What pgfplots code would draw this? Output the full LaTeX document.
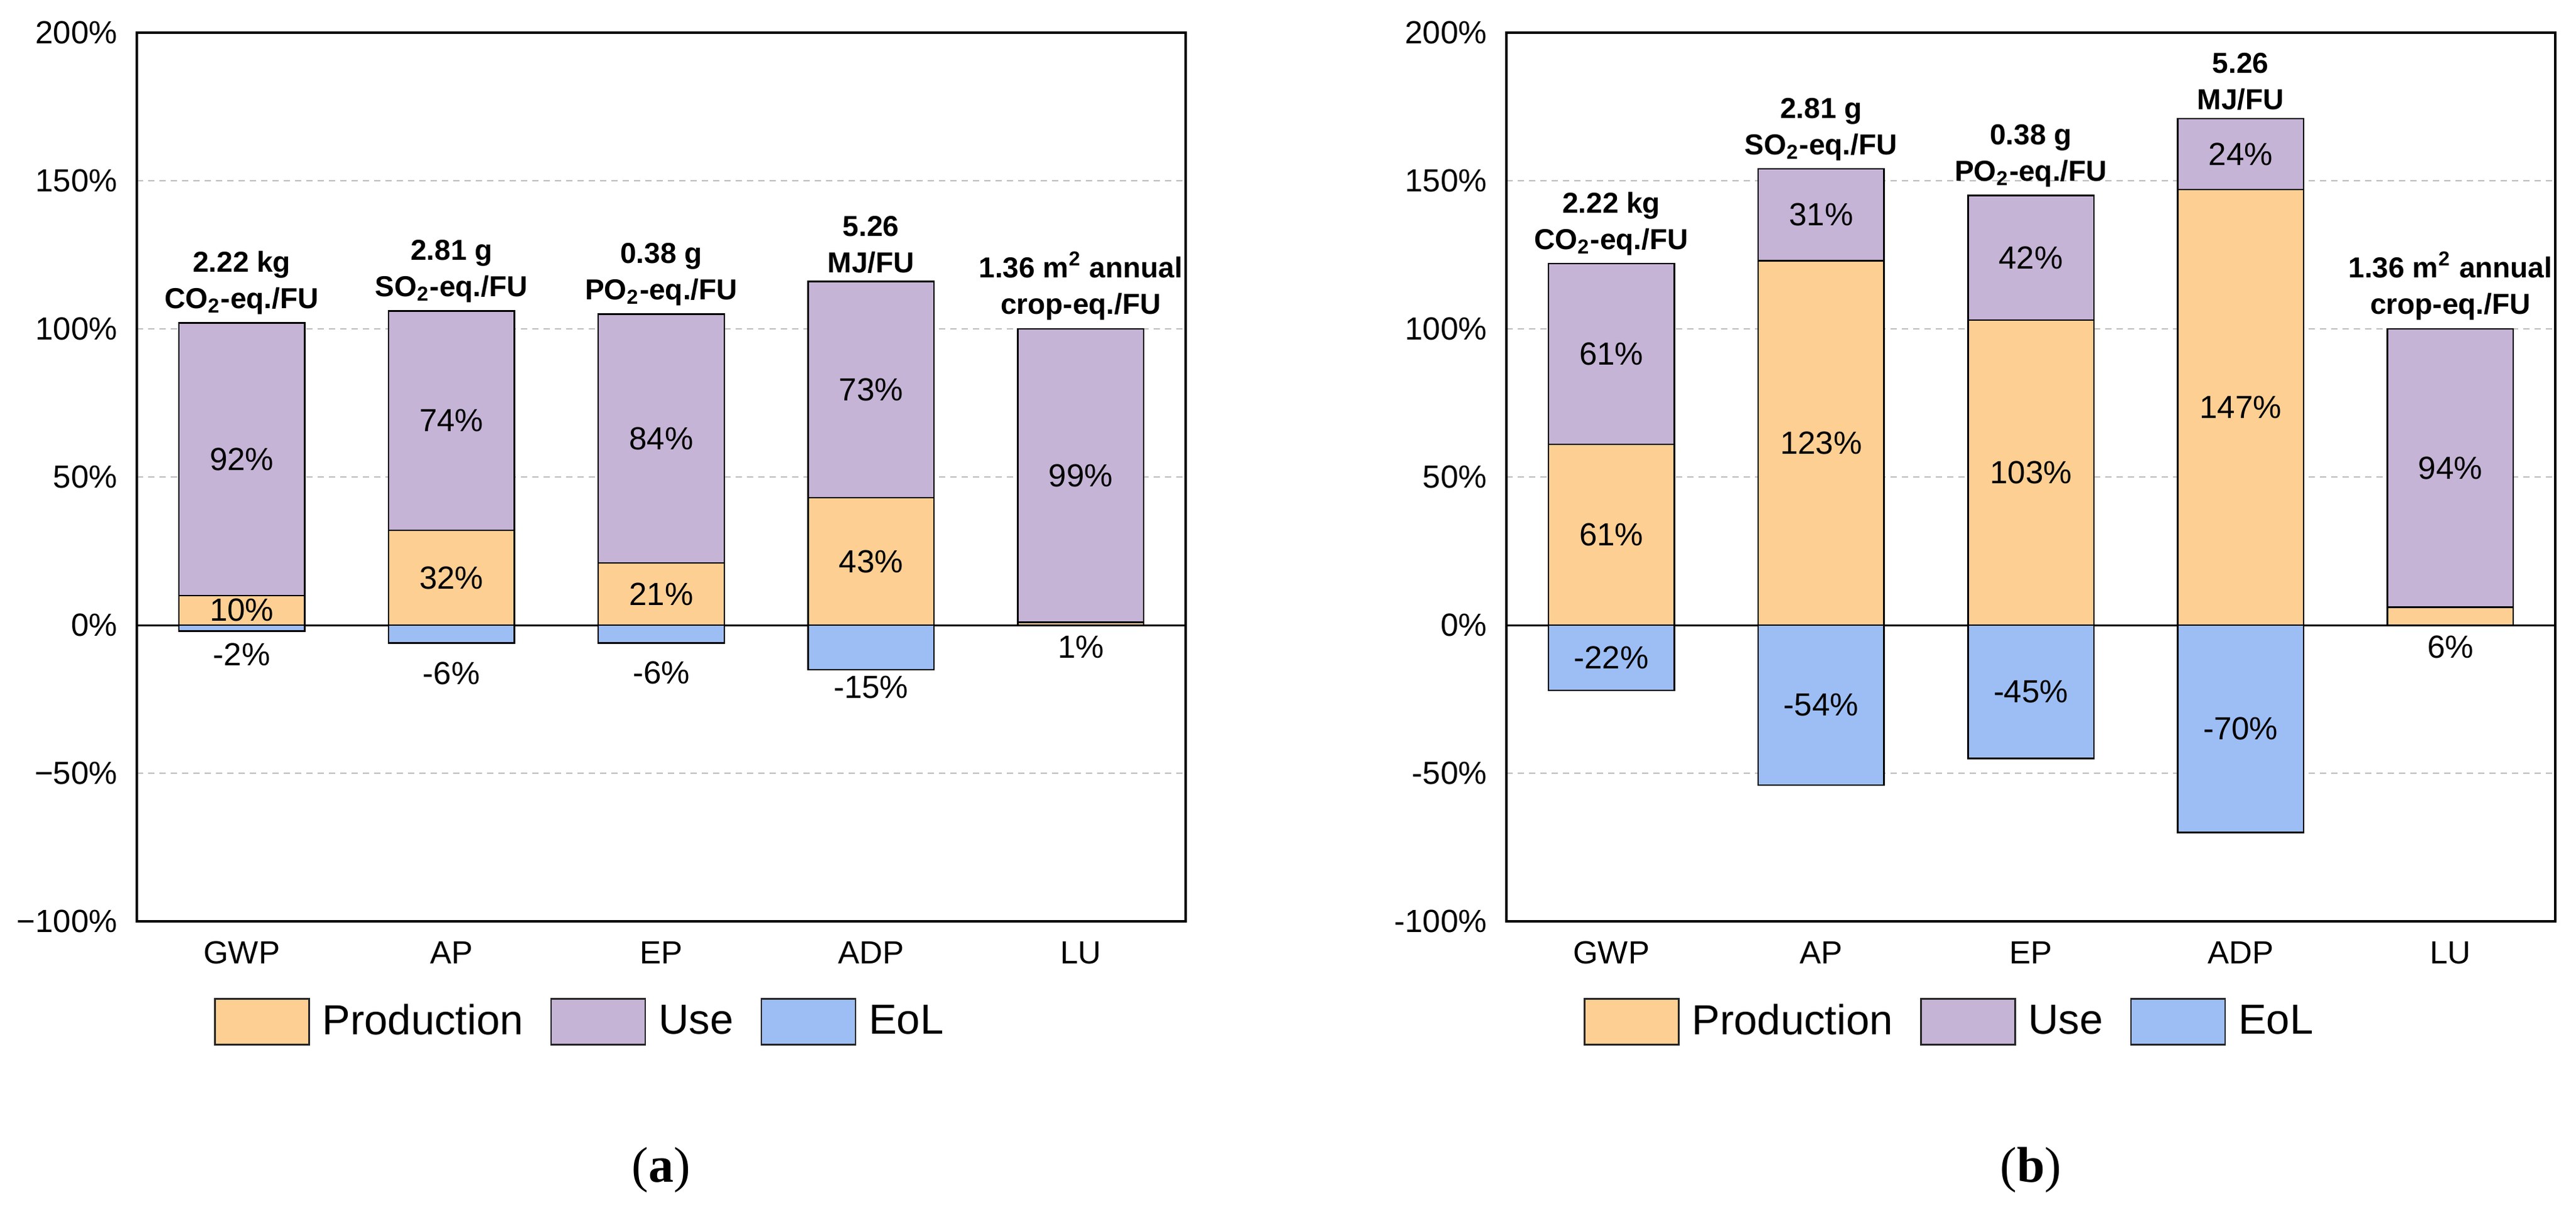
\documentclass[border=0pt]{standalone}
\usepackage{pgfplots}
\pgfplotsset{compat=1.18}
\usepackage{pgfplotstable}
\usepackage{fontspec}
\setmainfont{Liberation Sans}
\newfontfamily\capfont{Liberation Serif}
\definecolor{prodc}{HTML}{FECF93}
\definecolor{usec}{HTML}{C6B4D7}
\definecolor{eolc}{HTML}{9DBEF5}
\definecolor{gridc}{HTML}{BDBDBD}

\pgfplotstableread{
x prod use eol
0 10 92 -2
1 32 74 -6
2 21 84 -6
3 43 73 -15
4 1 99 0
}\dataA
\pgfplotstableread{
x prod use eol
0 61 61 -22
1 123 31 -54
2 103 42 -45
3 147 24 -70
4 6 94 0
}\dataB

\tikzset{
  annot/.style={anchor=south, align=center, inner sep=0pt, yshift=2.5pt,
    font=\fontsize{9.2}{11.6}\selectfont\bfseries},
  lab/.style={font=\fontsize{10.2}{12}\selectfont, inner sep=0pt},
}
\pgfplotsset{
  lcastyle/.style={
    scale only axis, width=334.2pt, height=283.2pt,
    anchor=south west,
    xmin=-0.5, xmax=4.5, ymin=-100, ymax=200,
    xtick={0,1,2,3,4}, xticklabels={GWP,AP,EP,ADP,LU},
    ytick={-100,-50,0,50,100,150,200},
    major tick length=0pt,
    axis line style={line width=0.8pt},
    ymajorgrids,
    major grid style={gridc, dash pattern=on 2pt off 1.6pt, line width=0.4pt},
    extra y ticks={0}, extra y tick labels={},
    extra y tick style={ymajorgrids=true, major grid style={black, solid, line width=0.6pt}},
    tick label style={font=\fontsize{10.2}{12}\selectfont, inner sep=0pt},
    yticklabel shift=6pt, xticklabel shift=6.2pt,
    ybar, bar width=0.6, bar shift=0pt,
    legend style={at={(0.0737,-0.113)}, anchor=west, draw=none, fill=none,
      legend columns=3, font=\fontsize{13.4}{16}\selectfont,
      inner sep=0pt, outer sep=0pt, nodes={inner sep=0pt},
      /tikz/every odd column/.append style={column sep=4pt},
      /tikz/every even column/.append style={column sep=8.6pt}},
    legend cell align=left,
    xlabel style={at={(0.5,-0.28)}, anchor=center, font=\capfont\fontsize{16}{18}\selectfont},
  },
  barsty/.style={draw=black, line width=0.5pt, forget plot},
  legbox/.style={legend image code/.code={\draw[fill=#1,draw=black!85,line width=0.5pt] (0pt,-7.3pt) rectangle (30pt,7.3pt);}},
}

\begin{document}
\begin{tikzpicture}
\path[use as bounding box] (0,0) rectangle (820.8pt,383.8pt);

% ---------------- panel (a)
\begin{axis}[lcastyle, at={(43.6pt,90.2pt)},
  yticklabels={−100\%,−50\%,0\%,50\%,100\%,150\%,200\%},
  xlabel={(\textbf{a})}]
\addlegendimage{legbox=prodc}
\addlegendentry{Production}
\addlegendimage{legbox=usec}
\addlegendentry{Use}
\addlegendimage{legbox=eolc}
\addlegendentry{EoL}
\addplot[barsty, fill=usec] table[x=x, y expr=\thisrow{prod}+\thisrow{use}] {\dataA};
\addplot[barsty, fill=prodc] table[x=x, y=prod] {\dataA};
\addplot[barsty, fill=eolc] table[x=x, y=eol] {\dataA};
% annotations
\node[annot] at (axis cs:0,102) {2.22 kg\\CO\textsubscript{2}-eq./FU};
\node[annot] at (axis cs:1,106) {2.81 g\\SO\textsubscript{2}-eq./FU};
\node[annot] at (axis cs:2,105) {0.38 g\\PO\textsubscript{2}-eq./FU};
\node[annot] at (axis cs:3,116) {5.26\\MJ/FU};
\node[annot] at (axis cs:4,100) {1.36 m\textsuperscript{2} annual\\crop-eq./FU};
% values
\node[lab] at (axis cs:0,5) {10\%};
\node[lab] at (axis cs:0,56) {92\%};
\node[lab] at (axis cs:0,-10) {-2\%};
\node[lab] at (axis cs:1,16) {32\%};
\node[lab] at (axis cs:1,69) {74\%};
\node[lab] at (axis cs:1,-16.3) {-6\%};
\node[lab] at (axis cs:2,10.5) {21\%};
\node[lab] at (axis cs:2,63) {84\%};
\node[lab] at (axis cs:2,-16) {-6\%};
\node[lab] at (axis cs:3,21.5) {43\%};
\node[lab] at (axis cs:3,79.5) {73\%};
\node[lab] at (axis cs:3,-21) {-15\%};
\node[lab] at (axis cs:4,50.5) {99\%};
\node[lab] at (axis cs:4,-7.5) {1\%};
\end{axis}

% ---------------- panel (b)
\begin{axis}[lcastyle, at={(480.0pt,90.2pt)},
  yticklabels={-100\%,-50\%,0\%,50\%,100\%,150\%,200\%},
  xlabel={(\textbf{b})}]
\addlegendimage{legbox=prodc}
\addlegendentry{Production}
\addlegendimage{legbox=usec}
\addlegendentry{Use}
\addlegendimage{legbox=eolc}
\addlegendentry{EoL}
\addplot[barsty, fill=usec] table[x=x, y expr=\thisrow{prod}+\thisrow{use}] {\dataB};
\addplot[barsty, fill=prodc] table[x=x, y=prod] {\dataB};
\addplot[barsty, fill=eolc] table[x=x, y=eol] {\dataB};
% annotations
\node[annot] at (axis cs:0,122) {2.22 kg\\CO\textsubscript{2}-eq./FU};
\node[annot] at (axis cs:1,154) {2.81 g\\SO\textsubscript{2}-eq./FU};
\node[annot] at (axis cs:2,145) {0.38 g\\PO\textsubscript{2}-eq./FU};
\node[annot] at (axis cs:3,171) {5.26\\MJ/FU};
\node[annot] at (axis cs:4,100) {1.36 m\textsuperscript{2} annual\\crop-eq./FU};
% values
\node[lab] at (axis cs:0,30.5) {61\%};
\node[lab] at (axis cs:0,91.5) {61\%};
\node[lab] at (axis cs:0,-11) {-22\%};
\node[lab] at (axis cs:1,61.5) {123\%};
\node[lab] at (axis cs:1,138.5) {31\%};
\node[lab] at (axis cs:1,-27) {-54\%};
\node[lab] at (axis cs:2,51.5) {103\%};
\node[lab] at (axis cs:2,124) {42\%};
\node[lab] at (axis cs:2,-22.5) {-45\%};
\node[lab] at (axis cs:3,73.5) {147\%};
\node[lab] at (axis cs:3,159) {24\%};
\node[lab] at (axis cs:3,-35) {-70\%};
\node[lab] at (axis cs:4,53) {94\%};
\node[lab] at (axis cs:4,-7.5) {6\%};
\end{axis}
\end{tikzpicture}
\end{document}
